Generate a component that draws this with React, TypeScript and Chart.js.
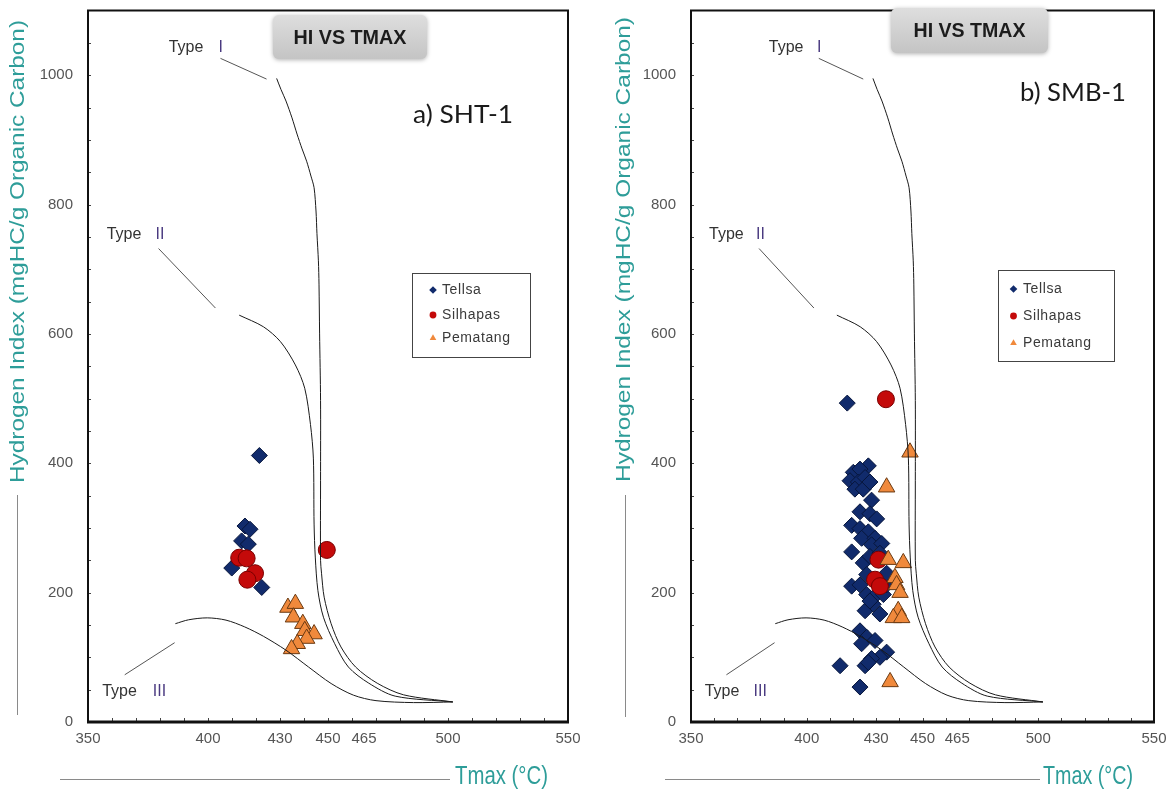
import React, { useEffect, useRef } from 'react';
import { Chart, registerables } from 'chart.js';

Chart.register(...registerables);

type Pt = [number, number];

// ---------- text / ticks ----------
const xTickValues = [350, 400, 430, 450, 465, 500, 550];
const yTickValues = [0, 200, 400, 600, 800, 1000];
const seriesNames = ['Tellsa', 'Silhapas', 'Pematang'];
const chartTitle = 'HI VS TMAX';
const xTitleText = 'Tmax (°C)';
const yTitleText = 'Hydrogen Index (mgHC/g Organic Carbon)';
const typeWord = 'Type';
const typeNumerals = ['I', 'II', 'III'];

// ---------- kerogen type curves (Tmax, HI) ----------
const typeICurve: Pt[] = [
  [428.6, 995], [430.4, 978], [432.5, 960], [435.0, 934], [437.1, 909], [439.2, 886],
  [441.1, 867], [442.9, 844], [444.2, 826], [445.0, 790], [445.4, 755], [446.0, 713],
  [446.25, 677], [446.5, 600], [446.9, 497], [446.9, 373], [446.9, 250], [447.3, 230],
  [448.4, 193], [451.3, 152], [455.4, 116], [461.5, 85], [470.5, 60], [481.5, 42], [502.0, 31],
];
const typeIICurve: Pt[] = [
  [413.0, 629], [423.1, 611], [430.2, 588], [436.4, 552], [440.3, 516], [442.7, 460],
  [443.9, 408], [444.2, 306], [444.7, 255], [445.8, 203], [448.1, 162], [452.8, 121],
  [458.5, 85], [467.0, 60], [478.0, 40], [502.0, 31],
];
const typeIIICurve: Pt[] = [
  [386.4, 152], [391.9, 158], [399.7, 161], [407.5, 157.5], [415.3, 147], [423.1, 132.5],
  [432.5, 111], [441.9, 85], [451.3, 59.5], [460.6, 41.5], [470.0, 33], [485.6, 30], [502.0, 31],
];
const typeILeader: Pt[] = [[405.2, 1026], [424.4, 994]];
const typeIILeader: Pt[] = [[379.4, 732], [403.1, 640]];
const typeIIILeader: Pt[] = [[365.3, 73], [386.1, 122.6]];
const typeWordAnchors: Pt[] = [[383.6, 1043], [357.8, 754], [355.9, 47]];
const typeNumeralT = [404.4, 378.1, 377.0];

// ---------- a) SHT-1 ----------
const sht1Tellsa: Pt[] = [
  [421.4, 412], [415.4, 303], [417.5, 298], [414.0, 280], [416.8, 275], [409.9, 238], [422.4, 208],
];
const sht1Silhapas: Pt[] = [
  [413.0, 254], [416.1, 253], [419.6, 230], [416.4, 220], [449.5, 266],
];
const sht1Pematang: Pt[] = [
  [433.3, 177], [436.4, 183], [435.6, 162], [439.5, 152], [440.3, 141], [444.2, 136],
  [441.1, 129], [437.2, 121], [434.8, 113],
];

// ---------- b) SMB-1 ----------
const smb1Tellsa: Pt[] = [
  [417.5, 493],
  [420.1, 386], [426.6, 396], [423.0, 391], [418.7, 373], [422.3, 371], [425.2, 378],
  [420.8, 360], [424.4, 360], [427.3, 371],
  [428.0, 343], [423.0, 325], [427.3, 322], [430.2, 314], [419.4, 304], [423.0, 299],
  [426.6, 294], [423.7, 284], [429.5, 284], [428.0, 274], [432.4, 276], [419.4, 263],
  [424.4, 246], [427.3, 256], [431.6, 261],
  [419.4, 210], [423.0, 212], [425.9, 197], [429.5, 195], [433.1, 197], [425.2, 172],
  [428.7, 182], [431.6, 167], [427.3, 187], [434.5, 212], [425.9, 228], [434.5, 230],
  [423.0, 141], [425.9, 131], [429.5, 126], [423.7, 121], [434.5, 108], [431.6, 100],
  [428.0, 98], [425.2, 87], [414.4, 87], [423.0, 54], [426.6, 92],
];
const smb1Silhapas: Pt[] = [
  [434.2, 499], [431.0, 251], [429.5, 220], [431.6, 210],
];
const smb1Pematang: Pt[] = [
  [444.6, 417], [434.5, 363], [435.2, 251], [441.7, 246], [438.1, 223], [438.8, 212],
  [440.3, 200], [439.5, 172], [437.4, 161], [441.0, 161], [436.0, 62],
];

// ---------- styling ----------
const FONT = '"Liberation Sans", Arial, sans-serif';
const TEAL = '#2e9d99';
const NAVY = '#112b6c';
const RED = '#c40a0a';
const ORANGE = '#f0893c';

interface Box { x: number; y: number; w: number; h: number }
interface PanelCfg {
  label: string;
  tellsa: Pt[];
  silhapas: Pt[];
  pematang: Pt[];
  left: number;
  width: number;
  pad: { left: number; right: number; top: number; bottom: number };
  titleBox: Box;
  titleTextW: number;
  labelPos: { x: number; y: number; w: number };
  legendBox: Box;
  legendRows: number[];
  legendMarkerX: number;
  legendTextX: number;
  yTitle: { cx: number; y1: number; y2: number; lineX: number; lineY1: number; lineY2: number };
  xTitle: { lineX1: number; lineX2: number; lineY: number; textX: number; textW: number; textY: number };
}

const leftCfg: PanelCfg = {
  label: 'a) SHT-1',
  tellsa: sht1Tellsa,
  silhapas: sht1Silhapas,
  pematang: sht1Pematang,
  left: 0,
  width: 590,
  pad: { left: 28, right: 22, top: 9, bottom: 31 },
  titleBox: { x: 273, y: 15, w: 154, h: 44 },
  titleTextW: 113,
  labelPos: { x: 413, y: 115, w: 100 },
  legendBox: { x: 412, y: 273, w: 118, h: 84 },
  legendRows: [290, 315, 338],
  legendMarkerX: 433,
  legendTextX: 442,
  yTitle: { cx: 18, y1: 20, y2: 483, lineX: 17, lineY1: 495, lineY2: 715 },
  xTitle: { lineX1: 60, lineX2: 450, lineY: 779, textX: 455, textW: 93, textY: 777 },
};

const rightCfg: PanelCfg = {
  label: 'b) SMB-1',
  tellsa: smb1Tellsa,
  silhapas: smb1Silhapas,
  pematang: smb1Pematang,
  left: 590,
  width: 582,
  pad: { left: 41, right: 18, top: 7, bottom: 31 },
  titleBox: { x: 301, y: 8, w: 157, h: 45 },
  titleTextW: 112,
  labelPos: { x: 430, y: 93, w: 106 },
  legendBox: { x: 408, y: 270, w: 116, h: 91 },
  legendRows: [289, 316, 343],
  legendMarkerX: 423.5,
  legendTextX: 433,
  yTitle: { cx: 34.5, y1: 17, y2: 482, lineX: 35, lineY1: 495, lineY2: 717 },
  xTitle: { lineX1: 75, lineX2: 450, lineY: 779, textX: 453, textW: 90, textY: 777 },
};

function fitText(
  ctx: CanvasRenderingContext2D,
  text: string,
  x: number,
  y: number,
  targetW: number,
  align: CanvasTextAlign,
) {
  const w = ctx.measureText(text).width || 1;
  const s = targetW / w;
  ctx.save();
  ctx.translate(x, y);
  ctx.scale(s, 1);
  ctx.textAlign = align;
  ctx.fillText(text, 0, 0);
  ctx.restore();
}

function drawMarker(ctx: CanvasRenderingContext2D, kind: number, x: number, y: number, r: number) {
  ctx.beginPath();
  if (kind === 0) {
    ctx.moveTo(x, y - r);
    ctx.lineTo(x + r, y);
    ctx.lineTo(x, y + r);
    ctx.lineTo(x - r, y);
    ctx.closePath();
    ctx.fillStyle = NAVY;
  } else if (kind === 1) {
    ctx.arc(x, y, r * 0.9, 0, Math.PI * 2);
    ctx.fillStyle = RED;
  } else {
    ctx.moveTo(x, y - r);
    ctx.lineTo(x + r * 0.87, y + r * 0.5);
    ctx.lineTo(x - r * 0.87, y + r * 0.5);
    ctx.closePath();
    ctx.fillStyle = ORANGE;
  }
  ctx.fill();
}

function makeDecor(cfg: PanelCfg) {
  return {
    id: 'decor',
    afterDraw(chart: Chart) {
      const ctx = chart.ctx;
      const { left, right, top, bottom } = chart.chartArea;
      const xs = chart.scales.x;
      const ys = chart.scales.y;
      const px = (v: number) => xs.getPixelForValue(v);
      const py = (v: number) => ys.getPixelForValue(v);
      ctx.save();

      // leader lines
      ctx.strokeStyle = '#555';
      ctx.lineWidth = 1;
      [typeILeader, typeIILeader, typeIIILeader].forEach((seg) => {
        ctx.beginPath();
        ctx.moveTo(px(seg[0][0]), py(seg[0][1]));
        ctx.lineTo(px(seg[1][0]), py(seg[1][1]));
        ctx.stroke();
      });

      // type labels
      ctx.textBaseline = 'middle';
      ctx.font = `16px ${FONT}`;
      typeWordAnchors.forEach((a, i) => {
        ctx.fillStyle = '#333';
        ctx.textAlign = 'left';
        ctx.fillText(typeWord, px(a[0]), py(a[1]));
        ctx.fillStyle = '#4a3a80';
        ctx.fillText(typeNumerals[i], px(typeNumeralT[i]), py(a[1]));
      });

      // minor ticks (inward)
      ctx.strokeStyle = '#444';
      ctx.lineWidth = 1;
      for (let v = 360; v < 550; v += 10) {
        const x = Math.round(px(v)) + 0.5;
        ctx.beginPath();
        ctx.moveTo(x, bottom);
        ctx.lineTo(x, bottom - 4);
        ctx.stroke();
      }
      for (let v = 50; v < 1100; v += 50) {
        const y = Math.round(py(v)) + 0.5;
        ctx.beginPath();
        ctx.moveTo(left, y);
        ctx.lineTo(left + 3, y);
        ctx.stroke();
      }

      // plot frame
      ctx.strokeStyle = '#111';
      ctx.lineWidth = 2;
      ctx.strokeRect(left, top, right - left, bottom - top);
      ctx.lineWidth = 3;
      ctx.beginPath();
      ctx.moveTo(left - 1, bottom);
      ctx.lineTo(right + 1, bottom);
      ctx.stroke();

      // title box
      const tb = cfg.titleBox;
      ctx.save();
      ctx.shadowColor = 'rgba(0,0,0,0.3)';
      ctx.shadowBlur = 4;
      ctx.shadowOffsetY = 1;
      const g = ctx.createLinearGradient(0, tb.y, 0, tb.y + tb.h);
      g.addColorStop(0, '#dedede');
      g.addColorStop(1, '#c4c4c4');
      ctx.fillStyle = g;
      ctx.beginPath();
      (ctx as any).roundRect(tb.x, tb.y, tb.w, tb.h, 6);
      ctx.fill();
      ctx.restore();
      ctx.fillStyle = '#1c1c1c';
      ctx.font = `bold 20px ${FONT}`;
      ctx.textBaseline = 'middle';
      fitText(ctx, chartTitle, tb.x + tb.w / 2, tb.y + tb.h / 2 + 1, cfg.titleTextW, 'center');

      // panel label
      ctx.fillStyle = '#1a1a1a';
      ctx.font = `25px Lato, ${FONT}`;
      fitText(ctx, cfg.label, cfg.labelPos.x, cfg.labelPos.y, cfg.labelPos.w, 'left');

      // legend
      const lb = cfg.legendBox;
      ctx.fillStyle = '#fff';
      ctx.fillRect(lb.x, lb.y, lb.w, lb.h);
      ctx.strokeStyle = '#444';
      ctx.lineWidth = 1;
      ctx.strokeRect(lb.x + 0.5, lb.y + 0.5, lb.w, lb.h);
      ctx.font = `14px ${FONT}`;
      seriesNames.forEach((name, i) => {
        const y = cfg.legendRows[i];
        drawMarker(ctx, i, cfg.legendMarkerX, y, 3.8);
        ctx.fillStyle = '#3a3a3a';
        ctx.textAlign = 'left';
        ctx.textBaseline = 'middle';
        (ctx as any).letterSpacing = '0.6px';
        ctx.fillText(name, cfg.legendTextX, y);
        (ctx as any).letterSpacing = '0px';
      });

      // y axis title
      const yt = cfg.yTitle;
      ctx.fillStyle = TEAL;
      ctx.font = `20px ${FONT}`;
      ctx.save();
      ctx.translate(yt.cx, (yt.y1 + yt.y2) / 2);
      ctx.rotate(-Math.PI / 2);
      ctx.textBaseline = 'middle';
      fitText(ctx, yTitleText, 0, 0, yt.y2 - yt.y1, 'center');
      ctx.restore();
      ctx.strokeStyle = '#8a8a8a';
      ctx.lineWidth = 1;
      ctx.beginPath();
      ctx.moveTo(yt.lineX + 0.5, yt.lineY1);
      ctx.lineTo(yt.lineX + 0.5, yt.lineY2);
      ctx.stroke();

      // x axis title
      const xt = cfg.xTitle;
      ctx.beginPath();
      ctx.moveTo(xt.lineX1, xt.lineY + 0.5);
      ctx.lineTo(xt.lineX2, xt.lineY + 0.5);
      ctx.stroke();
      ctx.fillStyle = TEAL;
      ctx.font = `25px ${FONT}`;
      ctx.textBaseline = 'middle';
      fitText(ctx, xTitleText, xt.textX, xt.textY, xt.textW, 'left');

      ctx.restore();
    },
  };
}

const toXY = (pts: Pt[]) => pts.map(([x, y]) => ({ x, y }));

function Panel({ cfg }: { cfg: PanelCfg }) {
  const ref = useRef<HTMLCanvasElement>(null);
  useEffect(() => {
    if (!ref.current) return;
    const curveDs = (pts: Pt[]) => ({
      type: 'scatter' as const,
      data: toXY(pts),
      showLine: true,
      pointRadius: 0,
      borderColor: '#1a1a1a',
      borderWidth: 1,
      tension: 0.3,
      fill: false,
      order: 1,
    });
    const chart = new Chart(ref.current, {
      type: 'scatter',
      data: {
        datasets: [
          {
            label: seriesNames[0],
            data: toXY(cfg.tellsa),
            pointStyle: 'rectRot',
            pointRadius: 8,
            backgroundColor: NAVY,
            borderColor: '#07163c',
            borderWidth: 1,
            order: 4,
          },
          {
            label: seriesNames[1],
            data: toXY(cfg.silhapas),
            pointStyle: 'circle',
            pointRadius: 8.5,
            backgroundColor: RED,
            borderColor: '#7a0000',
            borderWidth: 1,
            order: 3,
          },
          {
            label: seriesNames[2],
            data: toXY(cfg.pematang),
            pointStyle: 'triangle',
            pointRadius: 9.5,
            backgroundColor: ORANGE,
            borderColor: '#6a3a12',
            borderWidth: 1,
            order: 2,
          },
          curveDs(typeICurve) as any,
          curveDs(typeIICurve) as any,
          curveDs(typeIIICurve) as any,
        ],
      },
      options: {
        responsive: false,
        animation: false,
        events: [],
        layout: { padding: cfg.pad },
        plugins: {
          legend: { display: false },
          tooltip: { enabled: false },
          title: { display: false },
        },
        scales: {
          x: {
            type: 'linear',
            min: 350,
            max: 550,
            afterBuildTicks: (s: any) => {
              s.ticks = xTickValues.map((v) => ({ value: v }));
            },
            afterFit: (s: any) => {
              s.height = 40;
              s.paddingLeft = 0;
              s.paddingRight = 0;
            },
            grid: { display: false, drawTicks: false },
            border: { display: false },
            ticks: {
              padding: 8,
              autoSkip: false,
              maxRotation: 0,
              color: '#555',
              font: { size: 15, family: FONT },
              callback: (v: any) => `${v}`,
            },
          },
          y: {
            type: 'linear',
            min: 0,
            max: 1100,
            afterBuildTicks: (s: any) => {
              s.ticks = yTickValues.map((v) => ({ value: v }));
            },
            afterFit: (s: any) => {
              s.width = 60;
              s.paddingTop = 0;
              s.paddingBottom = 0;
            },
            grid: { display: false, drawTicks: false },
            border: { display: false },
            ticks: {
              padding: 15,
              autoSkip: false,
              color: '#555',
              font: { size: 15, family: FONT },
              callback: (v: any) => `${v}`,
            },
          },
        },
      },
      plugins: [makeDecor(cfg) as any],
    });
    return () => chart.destroy();
  }, [cfg]);
  return (
    <div style={{ position: 'absolute', left: cfg.left, top: 0, width: cfg.width, height: 793 }}>
      <canvas ref={ref} width={cfg.width} height={793} style={{ display: 'block' }} />
    </div>
  );
}

export default function App() {
  return (
    <div
      style={{
        position: 'absolute',
        left: 0,
        top: 0,
        width: 1172,
        height: 793,
        background: '#fff',
        overflow: 'hidden',
      }}
    >
      <Panel cfg={leftCfg} />
      <Panel cfg={rightCfg} />
    </div>
  );
}
